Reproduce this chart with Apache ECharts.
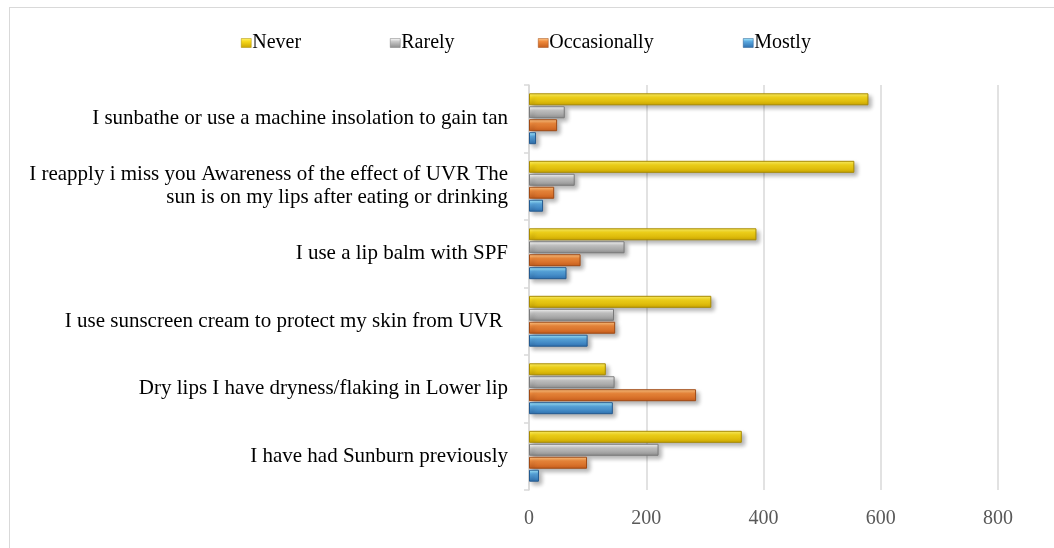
<!DOCTYPE html>
<html>
<head>
<meta charset="utf-8">
<script src="https://cdn.jsdelivr.net/npm/echarts@6/dist/echarts.min.js"></script>
<style>
  body { margin: 0; background: #fff; }
  #wrap { position: absolute; left: 9px; top: 7px; width: 1060px; height: 560px; border: 1px solid #d9d9d9; }
  #main { position: absolute; left: 0; top: 0; width: 1054px; height: 548px; }
</style>
</head>
<body>
<div id="wrap"></div>
<div id="main"></div>
<script>
// 分类（从下往上）
var categories = [
    'I have had Sunburn previously',
    'Dry lips I have dryness/flaking in Lower lip',
    'I use sunscreen cream to protect my skin from UVR ',
    'I use a lip balm with SPF',
    'I reapply i miss you Awareness of the effect of UVR The\nsun is on my lips after eating or drinking',
    'I sunbathe or use a machine insolation to gain tan'
];
var seriesNames = ['Never', 'Rarely', 'Occasionally', 'Mostly'];
var never = [363, 131, 311, 388, 555, 579];
var rarely = [221, 146, 145, 163, 78, 61];
var occasionally = [99, 285, 147, 88, 43, 48];
var mostly = [17, 143, 100, 64, 24, 12];
var xTicks = [0, 200, 400, 600, 800];

var myChart = echarts.init(document.getElementById('main'));

// 立体感的渐变
function bevel(top, mid, bottom, border) {
    return {
        color: new echarts.graphic.LinearGradient(0, 0, 0, 1, [
            { offset: 0, color: top },
            { offset: 0.35, color: mid },
            { offset: 1, color: bottom }
        ]),
        borderColor: border,
        borderWidth: 1,
        shadowColor: 'rgba(0,0,0,0.3)',
        shadowBlur: 4,
        shadowOffsetX: 3,
        shadowOffsetY: 3
    };
}

var styles = {
    'Never': bevel('#fff36a', '#f7d81a', '#c9a400', '#a88a00'),
    'Rarely': bevel('#ffffff', '#c8c8c8', '#8c8c8c', '#7a7a7a'),
    'Occasionally': bevel('#ffc98a', '#f08a3c', '#c45c1c', '#a04a14'),
    'Mostly': bevel('#a8eeff', '#5aa8e0', '#2e6fae', '#245a90')
};
var legendLeft = { 'Never': 236, 'Rarely': 385, 'Occasionally': 533, 'Mostly': 738 };

var dataMap = { 'Never': never, 'Rarely': rarely, 'Occasionally': occasionally, 'Mostly': mostly };

var series = seriesNames.map(function (name) {
    return {
        name: name,
        type: 'bar',
        data: dataMap[name],
        barWidth: 12,
        barGap: '8%',
        barCategoryGap: '28%',
        itemStyle: styles[name]
    };
});

// 每个图例单独放，间距跟原图一样
var legends = seriesNames.map(function (n) {
    var st = styles[n];
    return {
        top: 28,
        left: legendLeft[n],
        itemWidth: 10,
        itemHeight: 9,
        icon: 'rect',
        data: [{ name: n, itemStyle: { color: st.color, borderColor: st.borderColor, borderWidth: 0.5, shadowBlur: 0, shadowOffsetX: 0, shadowOffsetY: 0 } }],
        textStyle: { fontSize: 20, color: '#000', fontFamily: 'Liberation Serif', padding: [0, 0, 0, -4] }
    };
});

var option = {
    animation: false,
    textStyle: { fontFamily: 'Liberation Serif' },
    legend: legends,
    grid: { left: 529, right: 56, top: 85, bottom: 58 },
    xAxis: {
        type: 'value',
        min: 0,
        max: 800,
        interval: 200,
        axisLine: { show: false },
        axisTick: { show: false },
        splitLine: { lineStyle: { color: '#d9d9d9', width: 1.5 } },
        axisLabel: {
            fontSize: 20,
            color: '#595959',
            margin: 19,
            fontFamily: 'Liberation Serif',
            formatter: function (v) { return xTicks.indexOf(v) >= 0 ? v : ''; }
        }
    },
    yAxis: {
        type: 'category',
        data: categories,
        axisLine: { lineStyle: { color: '#d9d9d9', width: 1.5 } },
        axisTick: { show: true, length: 5, lineStyle: { color: '#d9d9d9', width: 1.5 } },
        axisLabel: {
            fontSize: 21,
            color: '#000',
            margin: 21,
            lineHeight: 23,
            align: 'right',
            fontFamily: 'Liberation Serif'
        }
    },
    series: series
};

myChart.setOption(option);
</script>
</body>
</html>
